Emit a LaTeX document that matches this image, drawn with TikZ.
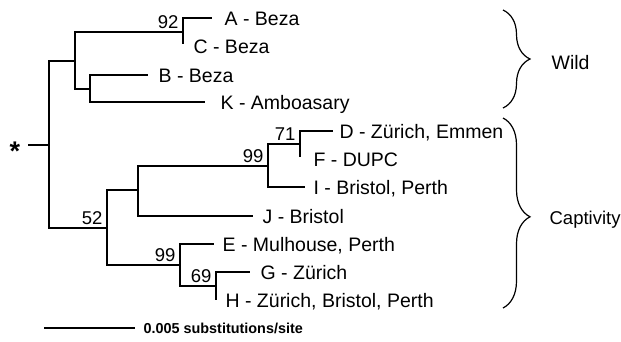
\documentclass[tikz,border=0pt]{standalone}
\usepackage{fontspec}
\setmainfont{Liberation Sans}
\usetikzlibrary{decorations.pathreplacing}
\begin{document}
\begin{tikzpicture}[x=1pt,y=-1pt,line width=1.2pt,
  taxon/.style={anchor=base west,inner sep=0pt,yshift=-7pt,font=\fontsize{19.5}{21}\selectfont},
  boot/.style={anchor=south east,inner sep=0pt,xshift=-4pt,yshift=3pt,font=\fontsize{18.5}{20}\selectfont},
  bracket/.style={decorate,decoration={brace,amplitude=27pt},line width=1.2pt}]
\useasboundingbox (0,0) rectangle (621,341);
% internal nodes and branch ends
\coordinate (stem) at (28,145);
\coordinate (root) at (49,145);
\coordinate (nW) at (75,61);
\coordinate (n92) at (183,32);
\coordinate (eA) at (212,18);
\coordinate (eC) at (183,44);
\coordinate (nBK) at (90,89);
\coordinate (eB) at (148,75);
\coordinate (eK) at (205,102);
\coordinate (n52) at (107,228);
\coordinate (nJ) at (138,190);
\coordinate (n99a) at (268,166);
\coordinate (n71) at (300,144);
\coordinate (eD) at (333,131);
\coordinate (eF) at (300,157);
\coordinate (eI) at (305,187);
\coordinate (eJ) at (253,216);
\coordinate (n99b) at (180,265);
\coordinate (eE) at (214,244);
\coordinate (n69) at (216,286);
\coordinate (eG) at (250,272);
\coordinate (eH) at (216,300);
% branches
\draw (stem) -- (root);
\draw (root) |- (nW);
\draw (root) |- (n52);
\draw (nW) |- (n92);
\draw (nW) |- (nBK);
\draw (n92) |- (eA);
\draw (n92) -- (eC);
\draw (nBK) |- (eB);
\draw (nBK) |- (eK);
\draw (n52) |- (nJ);
\draw (n52) |- (n99b);
\draw (nJ) |- (n99a);
\draw (nJ) |- (eJ);
\draw (n99a) |- (n71);
\draw (n99a) |- (eI);
\draw (n71) |- (eD);
\draw (n71) -- (eF);
\draw (n99b) |- (eE);
\draw (n99b) |- (n69);
\draw (n69) |- (eG);
\draw (n69) -- (eH);
% root star
\node[anchor=base,inner sep=0pt,font=\fontsize{27}{27}\selectfont\bfseries] (star) at (15,160.5) {*};
% bootstrap values
\node[boot] (b92) at (n92) {92};
\node[boot] (b52) at (n52) {52};
\node[boot] (b99a) at (n99a) {99};
\node[boot] (b71) at (n71) {71};
\node[boot] (b99b) at (n99b) {99};
\node[boot] (b69) at (n69) {69};
% taxa
\node[taxon] (A) at (224,18) {A - Beza};
\node[taxon] (C) at (193,46) {C - Beza};
\node[taxon] (B) at (158,75) {B - Beza};
\node[taxon] (K) at (220,102) {K - Amboasary};
\node[taxon] (D) at (339,131) {D - Zürich, Emmen};
\node[taxon] (F) at (313,159) {F - DUPC};
\node[taxon] (I) at (313,187) {I - Bristol, Perth};
\node[taxon] (J) at (262,216) {J - Bristol};
\node[taxon] (E) at (222,244) {E - Mulhouse, Perth};
\node[taxon] (G) at (260,272) {G - Zürich};
\node[taxon] (H) at (225,300) {H - Zürich, Bristol, Perth};
% groups
\coordinate (wt) at (503,10);
\coordinate (wb) at (503,108);
\draw[bracket] (wt) -- (wb);
\node[taxon] (wild) at (551,62) {Wild};
\coordinate (ct) at (503,118);
\coordinate (cb) at (503,308);
\draw[bracket,decoration={aspect=0.52}] (ct) -- (cb);
\node[taxon,font=\fontsize{18.5}{20}\selectfont] (capt) at (549,217) {Captivity};
% scale bar
\coordinate (s1) at (44,328);
\coordinate (s2) at (135,328);
\draw (s1) -- (s2);
\node[anchor=base west,inner sep=0pt,font=\fontsize{14.4}{16}\selectfont\bfseries] (scale) at (143,333) {0.005 substitutions/site};
\end{tikzpicture}
\end{document}
